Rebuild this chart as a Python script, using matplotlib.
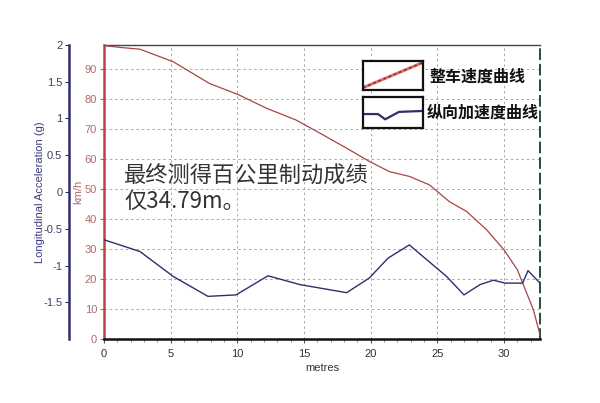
import matplotlib
matplotlib.use("Agg")
import matplotlib.pyplot as plt
from matplotlib.ticker import MultipleLocator

plt.rcParams['font.family'] = ['Liberation Sans', 'DejaVu Sans']

# ---- data ----
speed_x = [0, 1.2, 2.7, 5.2, 7.9, 10.1, 12.2, 14.4, 16.2, 18.2, 19.9, 21.4,
           22.9, 24.4, 25.9, 27.2, 28.7, 30.0, 31.0, 31.7, 32.2, 32.6, 32.7]
speed_kmh = [97.8, 97.2, 96.6, 92.4, 85.2, 81.4, 76.9, 73.0, 68.6, 63.6, 59.2, 55.8,
             54.2, 51.4, 45.8, 42.5, 36.4, 29.7, 23.1, 15.3, 9.8, 3.1, 1.4]

accel_x = [0, 2.7, 5.2, 7.8, 9.9, 12.3, 14.7, 18.2, 19.9, 21.3, 22.9, 24.2,
           25.7, 27.0, 28.2, 29.2, 30.1, 31.4, 31.8, 32.6, 32.7]
accel_g = [-0.65, -0.81, -1.15, -1.42, -1.40, -1.14, -1.26, -1.37, -1.17, -0.90, -0.72, -0.92,
           -1.15, -1.40, -1.26, -1.20, -1.24, -1.24, -1.07, -1.22, -1.24]

x_ticks = [0, 5, 10, 15, 20, 25, 30]
kmh_ticks = [0, 10, 20, 30, 40, 50, 60, 70, 80, 90]
g_ticks = [-1.5, -1, -0.5, 0, 0.5, 1, 1.5, 2]
g_labels = ['-1.5', '-1', '-0.5', '0', '0.5', '1', '1.5', '2']

legend_labels = ['整车速度曲线', '纵向加速度曲线']
note_text = '最终测得百公里制动成绩\n仅34.79m。'

W, H = 600, 403
fig = plt.figure(figsize=(6.0, 4.03), dpi=100)
fig.patch.set_facecolor('white')

L, R, T, B = 104, 540, 45, 339
ax = fig.add_axes([L / W, 1 - B / H, (R - L) / W, (B - T) / H])
ax.set_xlim(0, 32.7)
ax.set_ylim(0, 98)

red = '#a84444'
navy = '#2e2e6e'
tick_red = '#b06a6a'

ax.plot(speed_x, speed_kmh, color=red, lw=0.9, zorder=3)

ax.set_xticks(x_ticks)
ax.xaxis.set_minor_locator(MultipleLocator(1))
ax.set_yticks(kmh_ticks)
ax.grid(True, which='major', color='#a8a8a8', linestyle=(0, (2.5, 3)), lw=0.7)

ax.spines['top'].set_color('#444444')
ax.spines['top'].set_linewidth(1.0)
ax.spines['bottom'].set_color('#111111')
ax.spines['bottom'].set_linewidth(1.8)
ax.spines['left'].set_color('#c04040')
ax.spines['left'].set_linewidth(1.8)
ax.spines['right'].set_color('#2a4a3a')
ax.spines['right'].set_linewidth(1.4)
ax.spines['right'].set_linestyle((0, (5, 3)))

ax.tick_params(axis='x', which='major', length=3, color='#555555', labelsize=8,
               labelcolor='#333333', pad=4)
ax.tick_params(axis='x', which='minor', length=2, color='#777777')
ax.tick_params(axis='y', which='major', length=3, color=tick_red, labelsize=8,
               labelcolor=tick_red, pad=2)
ax.set_xlabel('metres', fontsize=8, color='#333333', labelpad=3)
ax.set_ylabel('km/h', fontsize=8, color=tick_red, labelpad=1)

ax2 = ax.twinx()
ax2.set_ylim(-2, 2)
ax2.plot(accel_x, accel_g, color=navy, lw=1.0, zorder=4)
ax2.yaxis.set_ticks_position('left')
ax2.yaxis.set_label_position('left')
ax2.spines['left'].set_position(('outward', 25))
ax2.spines['left'].set_color(navy)
ax2.spines['left'].set_linewidth(1.8)
for s in ['top', 'bottom', 'right']:
    ax2.spines[s].set_visible(False)
ax2.set_yticks(g_ticks)
ax2.set_yticklabels(g_labels)
ax2.tick_params(axis='y', which='major', length=3, color=navy, labelsize=8,
                labelcolor='#404060', pad=2)
ax2.set_ylabel('Longitudinal Acceleration (g)', fontsize=8, color='#3a3a80', labelpad=-1)

# annotation text
fig.text(124 / W, 1 - 165 / H, note_text, fontsize=16, color='#333333',
         family=['Noto Sans CJK SC', 'DejaVu Sans'], va='top', ha='left',
         linespacing=1.1)

# legend glyph boxes
def box(x0, y0, x1, y1):
    a = fig.add_axes([x0 / W, 1 - y1 / H, (x1 - x0) / W, (y1 - y0) / H])
    a.set_xlim(0, 1)
    a.set_ylim(0, 1)
    a.set_xticks([])
    a.set_yticks([])
    for s in a.spines.values():
        s.set_color('#111111')
        s.set_linewidth(1.6)
    a.set_facecolor('white')
    return a

b1 = box(363, 61, 423, 90)
b1.plot([0, 1], [0.08, 0.95], color='#e07070', lw=2.2)
b1.plot([0, 1], [0.08, 0.95], color='#7a2a2a', lw=1.0, linestyle=(0, (2, 2)))
b2 = box(363, 97, 423, 128)
b2.plot([0, 0.25, 0.37, 0.6, 1], [0.45, 0.45, 0.28, 0.52, 0.55], color=navy, lw=1.6)

fig.text(430 / W, 1 - 77 / H, legend_labels[0], fontsize=11.5, fontweight='bold',
         color='#111111', family=['Noto Sans CJK SC', 'DejaVu Sans'], va='center', ha='left')
fig.text(427 / W, 1 - 113 / H, legend_labels[1], fontsize=11.5, fontweight='bold',
         color='#111111', family=['Noto Sans CJK SC', 'DejaVu Sans'], va='center', ha='left')

fig.savefig('out.png', dpi=100, facecolor='white')
